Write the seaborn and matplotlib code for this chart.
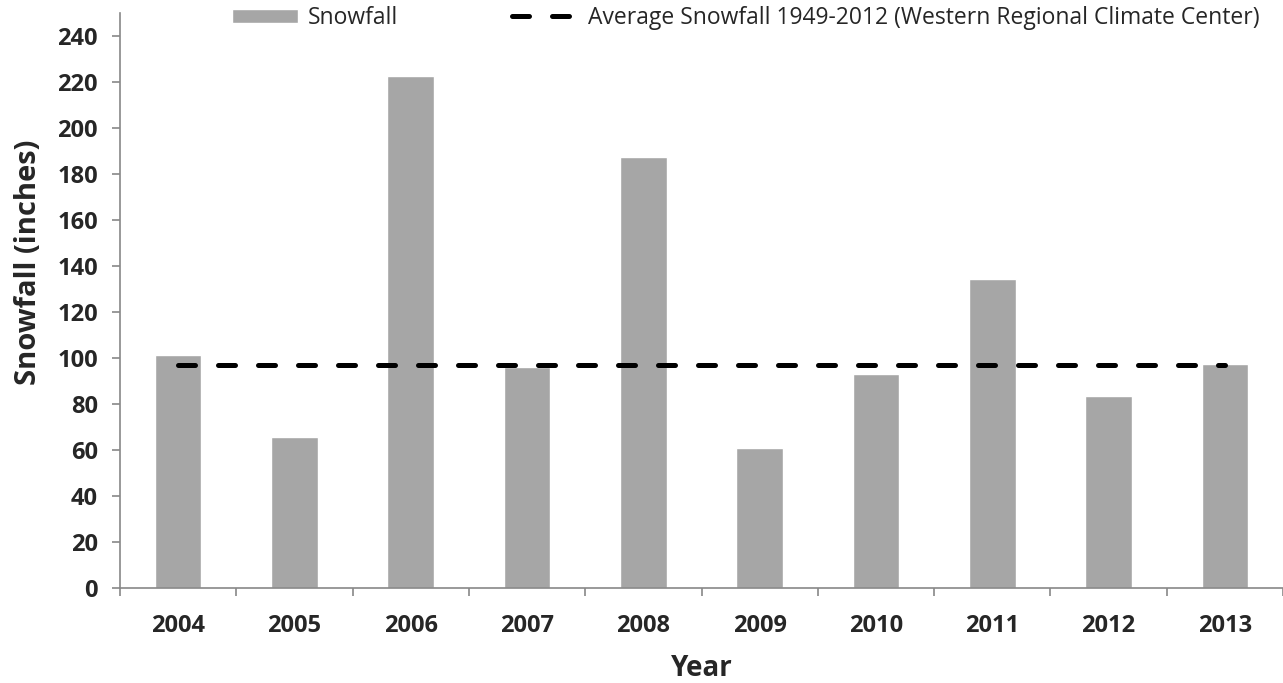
import matplotlib
matplotlib.use("Agg")
import matplotlib.pyplot as plt
import seaborn as sns
import pandas as pd

# dados
anos = ["2004", "2005", "2006", "2007", "2008", "2009", "2010", "2011", "2012", "2013"]
neve = [101.5, 65.5, 222.5, 96.0, 187.2, 60.9, 93.0, 134.3, 83.5, 97.3]
media = 97.0
yticks = [0, 20, 40, 60, 80, 100, 120, 140, 160, 180, 200, 220, 240]

sns.set_style("white")
plt.rcParams["font.family"] = ["Open Sans", "DejaVu Sans"]

df = pd.DataFrame({"Ano": anos, "Neve": neve})

fig = plt.figure(figsize=(12.83, 6.83), dpi=100)
ax = fig.add_axes([120 / 1283, 95 / 683, 1163 / 1283, 575 / 683])

sns.barplot(data=df, x="Ano", y="Neve", color="#A6A6A6", width=0.4,
            saturation=1, ax=ax, label="Snowfall")
# linha da media historica
ax.plot(range(len(anos)), [media] * len(anos), color="black", lw=3.6,
        linestyle=(0, (3.4, 4.6)), dash_capstyle="round", solid_capstyle="round",
        label="Average Snowfall 1949-2012 (Western Regional Climate Center)")

ax.set_xlim(-0.5, len(anos) - 0.5)
ax.set_ylim(0, 250)
ax.set_yticks(yticks)
ax.set_xticks(range(len(anos)))
ax.set_xticklabels(anos, fontsize=17, fontweight="bold")
ax.set_yticklabels([str(v) for v in yticks], fontsize=17, fontweight="bold")
ax.set_xticks([i + 0.5 for i in range(-1, len(anos))], minor=True)
ax.tick_params(axis="x", which="major", bottom=False, length=0, pad=19)
ax.tick_params(axis="x", which="minor", bottom=True, length=6, color="#888888", width=1.2)
ax.tick_params(axis="y", left=True, length=6, color="#888888", width=1.2, pad=10)

for s in ["top", "right"]:
    ax.spines[s].set_visible(False)
for s in ["left", "bottom"]:
    ax.spines[s].set_color("#888888")
    ax.spines[s].set_linewidth(1.2)

ax.set_xlabel("Year", fontsize=20, fontweight="bold", labelpad=11)
ax.set_ylabel("Snowfall (inches)", fontsize=21, fontweight="bold")
ax.yaxis.set_label_coords(-0.066, 0.567)

h, l = ax.get_legend_handles_labels()
ordem = [l.index("Snowfall"), 1 - l.index("Snowfall")]
ax.legend([h[i] for i in ordem], [l[i] for i in ordem],
          loc="center", bbox_to_anchor=(0.538, 0.991), ncol=2, frameon=False,
          fontsize=16.5, handlelength=2.9, handleheight=0.6, columnspacing=5.0,
          handletextpad=0.4, borderpad=0)

fig.savefig("out.png", dpi=100)
